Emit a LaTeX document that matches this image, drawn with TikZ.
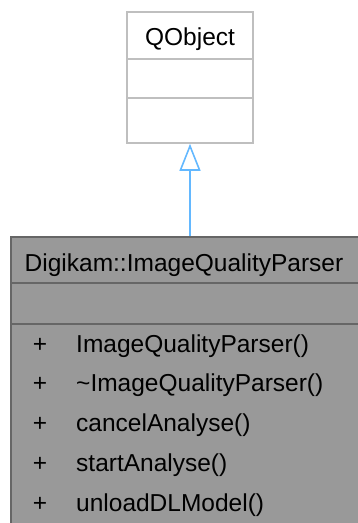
\documentclass[tikz,border=0pt]{standalone}
\usepackage{fontspec}
\setmainfont{Liberation Sans}
\usetikzlibrary{arrows.meta}
\definecolor{parentline}{HTML}{BFBFBF}
\definecolor{childfill}{HTML}{999999}
\definecolor{childline}{HTML}{666666}
\definecolor{inherit}{HTML}{63B8FF}
\tikzset{
  txt/.style={inner sep=0pt, font=\fontsize{24.5}{30}\selectfont},
  parentbox/.style={draw=parentline, fill=white, line width=1.6pt, inner sep=0pt},
  childbox/.style={draw=childline, fill=childfill, line width=1.6pt, inner sep=0pt},
}
\begin{document}
\begin{tikzpicture}[x=1pt,y=-1pt]
\useasboundingbox (0,0) rectangle (357,523);
% parent
\node[parentbox, minimum width=126pt, minimum height=131pt] (qobj) at (190,77.5) {};
\draw[parentline, line width=1.6pt] (127,59) -- (253,59) (127,98) -- (253,98);
\node[txt, anchor=base] (qobjt) at (190,45) {QObject};
% child
\node[childbox, minimum width=348pt, minimum height=288pt] (iqp) at (185,381) {};
\draw[childline, line width=1.6pt] (11,283) -- (359,283) (11,324) -- (359,324);
\node[txt, anchor=base] (iqpt) at (184,271) {Digikam::ImageQualityParser};
\foreach \y/\m [count=\i] in {352/ImageQualityParser(), 391/\char`\~ImageQualityParser(), 431/cancelAnalyse(), 471/startAnalyse(), 511/unloadDLModel()} {
  \node[txt, anchor=base] (p\i) at (40,\y) {+};
  \node[txt, anchor=base west] (m\i) at (76,\y) {\m};
}
% inheritance
\draw[inherit, line width=1.6pt, -{Triangle[open, length=27pt, width=21pt, line width=1.6pt]}] (iqp.north -| qobj.south) -- (qobj.south);
\end{tikzpicture}
\end{document}
